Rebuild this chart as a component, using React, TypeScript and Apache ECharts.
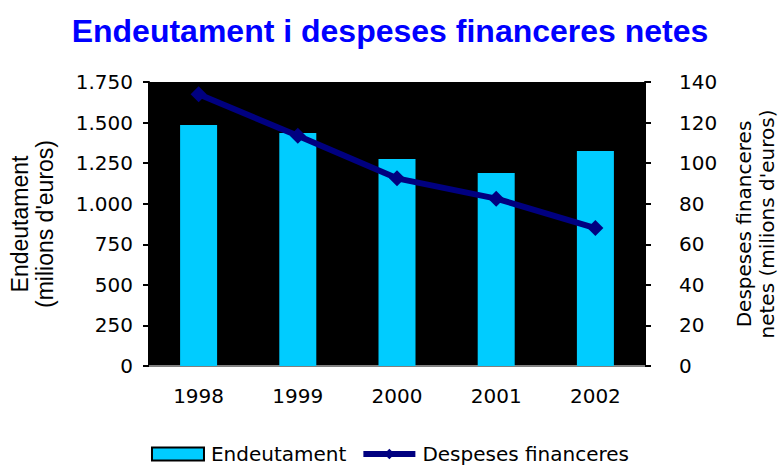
import React, { useEffect, useRef } from "react";
import * as echarts from "echarts";

const years = ["1998", "1999", "2000", "2001", "2002"];
const endeutament = [1485, 1436, 1275, 1189, 1325];
const despeses = [134, 113.5, 92.5, 82.5, 68];
const FONT = "DejaVu Sans";

export default function App() {
  const ref = useRef<HTMLDivElement>(null);
  useEffect(() => {
    const chart = echarts.init(ref.current!, null, { renderer: "svg" });
    chart.setOption({
      animation: false,
      backgroundColor: "#ffffff",
      title: {
        text: "Endeutament i despeses financeres netes",
        left: "center",
        top: 10,
        textStyle: { fontFamily: "Liberation Sans", fontWeight: "bold", fontSize: 32, color: "#0000FF" },
      },
      grid: {
        left: 149,
        right: 135,
        top: 82,
        bottom: 103,
        show: true,
        backgroundColor: "#000000",
        borderWidth: 0,
        outerBoundsMode: "none",
        containLabel: false,
      },
      legend: {
        bottom: 0,
        left: "center",
        itemGap: 14,
        itemWidth: 52,
        itemHeight: 13,
        textStyle: { fontFamily: FONT, fontSize: 20, color: "#000", padding: [0, 0, 0, 2] },
        data: [
          { name: "Endeutament", icon: "rect", itemStyle: { borderColor: "#000", borderWidth: 2 } },
          { name: "Despeses financeres", lineStyle: { width: 6, color: "#000080" } },
        ],
      },
      xAxis: [
        {
          type: "category",
          data: years,
          axisLine: { lineStyle: { color: "#000", width: 2 } },
          axisTick: { length: 6, lineStyle: { color: "#000", width: 2 } },
          axisLabel: { fontFamily: FONT, fontSize: 20, color: "#000", margin: 20 },
        },
        {
          type: "category",
          data: years,
          position: "top",
          axisLine: { lineStyle: { color: "#808080", width: 2 } },
          axisTick: { show: false },
          axisLabel: { show: false },
        },
      ],
      yAxis: [
        {
          type: "value",
          min: 0,
          max: 1750,
          interval: 250,
          name: "Endeutament\n(milions d'euros)",
          nameLocation: "middle",
          nameRotate: 90,
          nameGap: 92,
          nameTextStyle: { fontFamily: "Liberation Sans", fontSize: 23, color: "#000", lineHeight: 25 },
          axisLine: { show: true, lineStyle: { color: "#000", width: 2 } },
          axisTick: { show: true, length: 6, lineStyle: { color: "#000", width: 2 } },
          splitLine: { show: false },
          axisLabel: {
            fontFamily: FONT,
            fontSize: 20,
            color: "#000",
            margin: 16,
            formatter: (v: number) => v.toString().replace(/\B(?=(\d{3})+(?!\d))/g, "."),
          },
        },
        {
          type: "value",
          min: 0,
          max: 140,
          interval: 20,
          name: "Despeses financeres\nnetes (milions d'euros)",
          nameLocation: "middle",
          nameRotate: 90,
          nameGap: 87,
          nameTextStyle: { fontFamily: FONT, fontSize: 20, color: "#000", lineHeight: 23 },
          axisLine: { show: true, lineStyle: { color: "#000", width: 2 } },
          axisTick: { show: true, length: 6, lineStyle: { color: "#000", width: 2 } },
          splitLine: { show: false },
          axisLabel: { fontFamily: FONT, fontSize: 20, color: "#000", margin: 34 },
        },
      ],
      series: [
        {
          name: "Endeutament",
          type: "bar",
          data: endeutament,
          barWidth: 37,
          itemStyle: { color: "#00CCFF" },
          yAxisIndex: 0,
        },
        {
          name: "Despeses financeres",
          type: "line",
          data: despeses,
          yAxisIndex: 1,
          symbol: "diamond",
          symbolSize: 16,
          lineStyle: { color: "#000080", width: 6 },
          itemStyle: { color: "#000080" },
        },
      ],
    });
    return () => chart.dispose();
  }, []);
  return <div ref={ref} style={{ width: 780, height: 469, position: "absolute", left: 0, top: 0 }} />;
}
